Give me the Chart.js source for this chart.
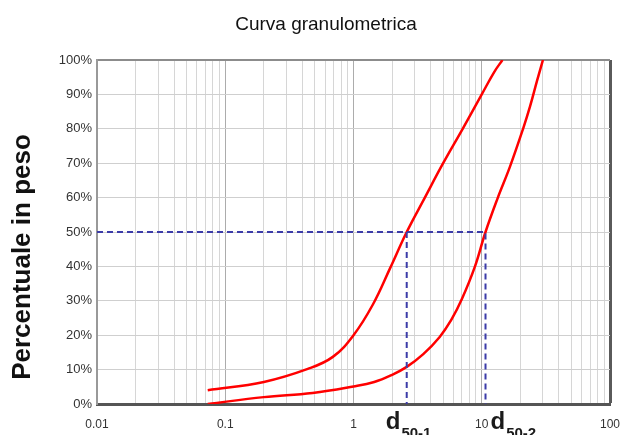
<!DOCTYPE html>
<html>
<head>
<meta charset="utf-8">
<script src="https://cdn.jsdelivr.net/npm/chart.js@4"></script>
<style>
  html, body { margin: 0; padding: 0; background: #fff; }
  #wrap { width: 623px; height: 435px; }
</style>
</head>
<body>
<div id="wrap"><canvas id="grainChart"></canvas></div>
<script>
//------Dati------
const chartTitle = 'Curva granulometrica';
const yTitle = 'Percentuale in peso';

// curva 1 (materiale fine)
const sieveSize1 = [0.073, 0.2, 0.44, 0.69, 1.0, 1.42, 1.93, 2.6, 3.6, 5.0, 7.1, 10, 12.5, 14.5];
const passing1 = [4, 6.4, 10.2, 13.7, 20, 29, 39.5, 50, 60, 70, 80, 90, 96.5, 100];

// curva 2 (materiale grosso)
const sieveSize2 = [0.073, 0.2, 0.48, 1.0, 1.45, 2.0, 2.6, 3.5, 4.7, 5.8, 7.0, 8.8, 10.7, 13.2, 16.6, 21, 23.8, 27, 30];
const passing2 = [0, 2, 3.2, 5.1, 6.4, 8.5, 10.8, 14.5, 19.5, 24.5, 30.5, 39.7, 50, 59.5, 69, 80, 86.5, 94, 100];

// diametri al 50%
const d50Values = [2.6, 10.7];
const d50Names = ['50-1', '50-2'];

const xDecades = [0.01, 0.1, 1, 10, 100];
const yTicks = [0, 10, 20, 30, 40, 50, 60, 70, 80, 90, 100];
//--------------

const toPoints = (xs, ys) => xs.map((x, i) => ({ x: x, y: ys[i] }));
const isDecade = (v) => xDecades.some((d) => Math.abs(d - v) < d * 1e-6);

// tacche 1..9 per ogni decade
const xTickValues = [];
xDecades.forEach((d, i) => {
  if (i === xDecades.length - 1) { xTickValues.push(d); return; }
  for (let k = 1; k < 10; k++) xTickValues.push(+(d * k).toPrecision(3));
});

const dashColor = '#3c3ca8';

//--Testi fuori dal grafico
const textPlugin = {
  id: 'textPlugin',
  afterDraw(chart) {
    const { ctx, scales } = chart;
    ctx.save();
    ctx.fillStyle = '#111';
    ctx.textAlign = 'center';
    ctx.textBaseline = 'middle';
    ctx.font = '19px "Liberation Sans", Arial, sans-serif';
    ctx.fillText(chartTitle, 326, 25);

    ctx.translate(23, 257);
    ctx.rotate(-Math.PI / 2);
    ctx.font = 'bold 26px "Liberation Sans", Arial, sans-serif';
    ctx.fillText(yTitle, 0, 0);
    ctx.restore();

    const offsets = [-21, 5];
    ctx.save();
    ctx.fillStyle = '#1a1a1a';
    ctx.textAlign = 'left';
    ctx.textBaseline = 'alphabetic';
    d50Values.forEach((v, i) => {
      const px = scales.x.getPixelForValue(v) + offsets[i];
      ctx.font = 'bold 24px "Liberation Sans", Arial, sans-serif';
      ctx.fillText('d', px, 429);
      const w = ctx.measureText('d').width;
      ctx.font = 'bold 15px "Liberation Sans", Arial, sans-serif';
      ctx.fillText(d50Names[i], px + w + 1, 438);
    });
    ctx.restore();
  }
};

const ctx = document.getElementById('grainChart').getContext('2d');

new Chart(ctx, {
  type: 'line',
  data: {
    datasets: [
      {
        data: [{ x: xDecades[0], y: 50 }, { x: d50Values[1], y: 50 }, { x: d50Values[1], y: 0 }],
        borderColor: dashColor,
        borderWidth: 2,
        borderDash: [6, 4],
        pointRadius: 0,
        tension: 0
      },
      {
        data: [{ x: d50Values[0], y: 50 }, { x: d50Values[0], y: 0 }],
        borderColor: dashColor,
        borderWidth: 2,
        borderDash: [6, 4],
        pointRadius: 0,
        tension: 0
      },
      {
        data: toPoints(sieveSize1, passing1),
        borderColor: '#ff0000',
        borderWidth: 2.5,
        pointRadius: 0,
        tension: 0.4
      },
      {
        data: toPoints(sieveSize2, passing2),
        borderColor: '#ff0000',
        borderWidth: 2.5,
        pointRadius: 0,
        tension: 0.4
      }
    ]
  },
  options: {
    responsive: true,
    maintainAspectRatio: false,
    animation: false,
    layout: { padding: { top: 60, right: 13, left: 0, bottom: 0 } },
    plugins: {
      legend: { display: false },
      tooltip: { enabled: false },
      title: { display: false }
    },
    scales: {
      x: {
        type: 'logarithmic',
        min: 0.01,
        max: 100,
        afterBuildTicks: (scale) => {
          scale.ticks = xTickValues.map((v) => ({ value: v, major: isDecade(v) }));
        },
        afterFit: (scale) => {
          scale.height = 31;
          scale.paddingLeft = 0;
          scale.paddingRight = 0;
        },
        ticks: {
          autoSkip: false,
          maxRotation: 0,
          padding: 13,
          color: '#333',
          font: { family: '"Liberation Sans", Arial, sans-serif', size: 12 },
          callback: (v) => (isDecade(v) ? String(v) : '')
        },
        grid: {
          drawTicks: false,
          color: (c) => {
            const v = c.tick && c.tick.value;
            if (v === 100) return '#5a5a5a';
            return isDecade(v) ? '#acacac' : '#d6d6d6';
          },
          lineWidth: (c) => (c.tick && c.tick.value === 100 ? 3 : 1)
        },
        border: { color: '#555', width: 3 }
      },
      y: {
        min: 0,
        max: 100,
        afterBuildTicks: (scale) => {
          scale.ticks = yTicks.map((v) => ({ value: v }));
        },
        afterFit: (scale) => {
          scale.width = 97;
          scale.paddingTop = 0;
          scale.paddingBottom = 0;
        },
        ticks: {
          padding: 5,
          color: '#333',
          font: { family: '"Liberation Sans", Arial, sans-serif', size: 13 },
          callback: (v) => v + '%'
        },
        grid: {
          drawTicks: false,
          color: (c) => (c.tick && c.tick.value === 100 ? '#8c8c8c' : '#cfcfcf'),
          lineWidth: (c) => (c.tick && c.tick.value === 100 ? 2 : 1)
        },
        border: { color: '#999', width: 2 }
      }
    }
  },
  plugins: [textPlugin]
});
</script>
</body>
</html>
